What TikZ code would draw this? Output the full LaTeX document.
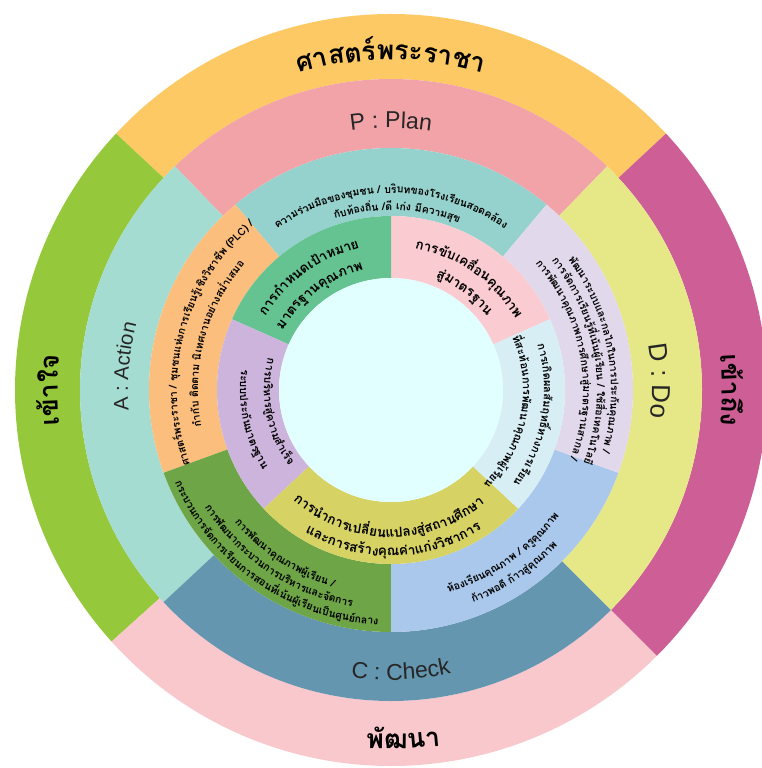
\documentclass[tikz,border=0pt]{standalone}
\usepackage{fontspec}
\setmainfont{Liberation Sans}
\newfontfamily\thaifont[Script=Thai]{Loma}

% colours of the rings
\definecolor{kingorange}{HTML}{FDC964}
\definecolor{reachpink}{HTML}{CD5F96}
\definecolor{devpink}{HTML}{F8C8CD}
\definecolor{knowgreen}{HTML}{96C83C}
\definecolor{planpink}{HTML}{F2A3A8}
\definecolor{doyellow}{HTML}{E6E887}
\definecolor{checkblue}{HTML}{6496AF}
\definecolor{actaqua}{HTML}{A5DCD2}
\definecolor{midteal}{HTML}{96D2CD}
\definecolor{midorange}{HTML}{FCBE7D}
\definecolor{midgreen}{HTML}{6EA546}
\definecolor{midblue}{HTML}{AAC8EB}
\definecolor{midlilac}{HTML}{E2D8EC}
\definecolor{ingreen}{HTML}{64C391}
\definecolor{inpink}{HTML}{FACCD2}
\definecolor{inblue}{HTML}{D7EEF5}
\definecolor{inyellow}{HTML}{D6D264}
\definecolor{inpurple}{HTML}{CDB4DC}
\definecolor{hub}{HTML}{E1FFFF}

\tikzset{arcpiece/.style={anchor=base, inner sep=0pt, outer sep=0pt}}

\newdimen\arcsum
\newdimen\arcpos
\newdimen\arcmid
\newbox\arcbox
\newcount\arcnum
% one sector of a ring: colour, from, to, inner radius, outer radius
\newcommand\ringpart[5]{%
  \fill[#1] (#2:#4) arc[start angle=#2, end angle=#3, radius=#4]
    -- (#3:#5) arc[start angle=#3, end angle=#2, radius=#5] -- cycle;}
% a line of text bent on a circle: radius, middle angle,
% 1 = clockwise (tops out) or -1 = anticlockwise (tops in), font, pieces
\makeatletter
\newcommand\arcline[5]{%
  \global\arcsum=0pt
  \foreach \piece in {#5}{%
    \setbox\arcbox=\hbox{\pgfinterruptpicture#4\piece\null\endpgfinterruptpicture}%
    \global\advance\arcsum by \wd\arcbox\relax}%
  \global\arcpos=-0.5\arcsum
  \foreach \piece in {#5}{%
    \setbox\arcbox=\hbox{\pgfinterruptpicture#4\piece\null\endpgfinterruptpicture}%
    \arcmid=\arcpos\relax
    \advance\arcmid by 0.5\wd\arcbox\relax
    \global\advance\arcpos by \wd\arcbox\relax
    \edef\arcs{\strip@pt\arcmid}%
    \pgfmathsetmacro\arcang{#2-(#3)*\arcs/#1*57.29578}%
    \pgfmathsetmacro\arcrot{\arcang-90*(#3)}%
    \global\advance\arcnum by 1\relax
    \node[arcpiece, rotate=\arcrot] (piece\the\arcnum) at (\arcang:#1) {#4\piece\null};}}
\makeatother

\newcommand\bigthai{\thaifont\bfseries\fontsize{26.5}{28}\selectfont}
\newcommand\pdca{\fontsize{23}{25}\selectfont\color{black!85}}
\newcommand\midthai{\thaifont\bfseries\fontsize{10.5}{12}\selectfont}
\newcommand\inthai{\thaifont\bfseries\fontsize{13.5}{15}\selectfont}
\newcommand\smallthai{\thaifont\bfseries\fontsize{11}{12}\selectfont}

\begin{document}
\begin{tikzpicture}[x=1pt,y=1pt]
  \useasboundingbox (-391,-378) rectangle (370,390);

  % outer ring
  \ringpart{kingorange}{43}{137}{311}{376}
  \ringpart{knowgreen}{137}{222}{311}{376}
  \ringpart{devpink}{222}{315}{311}{376}
  \ringpart{reachpink}{-45}{43}{311}{376}
  % PDCA ring
  \ringpart{planpink}{46}{134}{242}{311}
  \ringpart{actaqua}{134}{223}{242}{311}
  \ringpart{checkblue}{223}{315}{242}{311}
  \ringpart{doyellow}{-45}{46}{242}{311}
  % middle ring
  \ringpart{midteal}{50}{130}{174}{242}
  \ringpart{midorange}{130}{200}{174}{242}
  \ringpart{midgreen}{200}{270}{174}{242}
  \ringpart{midblue}{270}{340}{174}{242}
  \ringpart{midlilac}{-20}{50}{174}{242}
  % inner ring
  \ringpart{inpink}{24}{90}{112}{174}
  \ringpart{ingreen}{90}{156}{112}{174}
  \ringpart{inpurple}{156}{223}{112}{174}
  \ringpart{inyellow}{223}{317}{112}{174}
  \ringpart{inblue}{-43}{24}{112}{174}
  % hub
  \fill[hub] (0,0) circle[radius=112];

  % outer labels
  \arcline{330}{90}{1}{\bigthai}{ศา,สตร์,พระ,รา,ชา}
  \arcline{333}{180}{1}{\bigthai}{เข้า,ใจ}
  \arcline{331}{0}{1}{\bigthai}{เข้า,ถึง}
  \arcline{359}{-88}{-1}{\bigthai}{พัฒ,นา}

  % PDCA labels
  \arcline{262}{90}{1}{\pdca}{P,~:~,P,l,a,n}
  \arcline{263}{175}{1}{\pdca\fontsize{20.5}{22}\selectfont}{A,~:~,A,c,t,i,o,n}
  \arcline{261}{2}{1}{\pdca\fontsize{26}{28}\selectfont}{D,~:~,D,o}
  \arcline{290}{-88}{-1}{\pdca}{C,~:~,C,h,e,c,k}

  % middle ring texts
  \arcline{197}{90}{1}{\midthai}{ความ,ร่วม,มือ,ของ,ชุม,ชน~/~,บริ,บท,ของ,โรง,เรียน,สอด,คล้อง}
  \arcline{180}{88}{1}{\midthai}{กับ,ท้อง,ถิ่น~/,ดี~,เก่ง~,มี,ความ,สุข}
  \arcline{214}{165}{1}{\midthai}{ศาสตร์,พระ,ราชา~/~,ชุม,ชน,แห่ง,การ,เรียน,รู้,เชิง,วิชา,ชีพ~,(PLC)~/}
  \arcline{193}{165}{1}{\midthai}{กำ,กับ~,ติด,ตาม~,นิ,เทศ,งาน,อย่าง,สม่ำ,เสมอ}
  \arcline{205}{237}{-1}{\midthai}{การ,พัฒ,นา,คุณ,ภาพ,ผู้,เรียน~/}
  \arcline{220}{236}{-1}{\midthai}{การ,พัฒ,นา,กระ,บวน,การ,บริ,หาร,และ,จัด,การ}
  \arcline{235}{235}{-1}{\midthai}{กระ,บวน,การ,จัด,การ,เรียน,การ,สอน,ที่,เน้น,ผู้,เรียน,เป็น,ศูนย์,กลาง}
  \arcline{210}{-55.5}{-1}{\midthai}{ห้อง,เรียน,คุณ,ภาพ~/~,ครู,คุณ,ภาพ}
  \arcline{228}{-56}{-1}{\midthai}{ก้าว,พอ,ดี~,ก้าว,สู่,คุณ,ภาพ}
  \arcline{220}{10}{1}{\midthai}{พัฒ,นา,ระ,บบ,และ,กล,ไก,ใน,การ,ประ,กัน,คุณ,ภาพ~/}
  \arcline{206}{9}{1}{\midthai}{การ,จัด,การ,เรียน,รู้,ที่,เน้น,ผู้,เรียน~/~,ใช้,สื่อ,เทค,โน,โลยี}
  \arcline{192}{10}{1}{\midthai}{การ,พัฒ,นา,คุณ,ภาพ,การ,ศึก,ษา,สู่,มาตร,ฐาน,สา,กล~/}

  % inner ring texts
  \arcline{145}{126}{1}{\inthai}{การ,กำ,หนด,เป้า,หมาย}
  \arcline{123}{127}{1}{\inthai}{มาตร,ฐาน,คุณ,ภาพ}
  \arcline{143}{55}{1}{\inthai}{การ,ขับ,เคลื่อน,คุณ,ภาพ}
  \arcline{121}{53}{1}{\inthai}{สู่,มาตร,ฐาน}
  \arcline{153}{-10}{1}{\smallthai}{การ,เกิด,ผล,สัม,ฤทธิ์,ทาง,การ,เรียน}
  \arcline{132}{-11}{1}{\smallthai}{ที่,สะ,ท้อน,การ,พัฒ,นา,คุณ,ภาพ,ผู้,เรียน}
  \arcline{147}{-91}{-1}{\inthai}{การ,นำ,การ,เปลี่ยน,แปลง,สู่,สถาน,ศึก,ษา}
  \arcline{166}{-89}{-1}{\inthai}{และ,การ,สร้าง,คุณ,ค่า,แก่ง,วิชา,การ}
  \arcline{127}{191}{-1}{\smallthai}{การ,บริ,หาร,สู่,ความ,สำ,เร็จ}
  \arcline{151}{192}{-1}{\smallthai}{ระ,บบ,ประ,กัน,มาตร,ฐาน}
\end{tikzpicture}
\end{document}
